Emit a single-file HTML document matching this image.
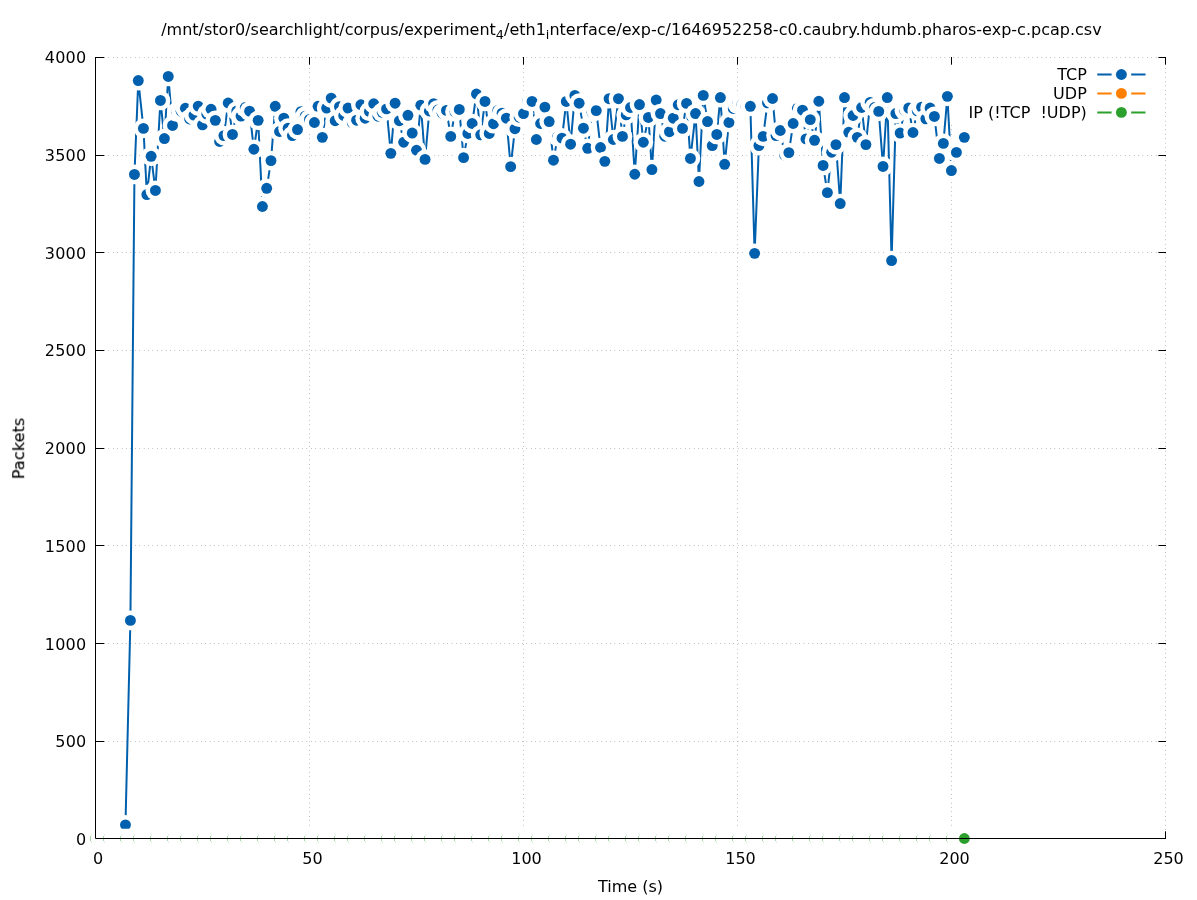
<!DOCTYPE html><html><head><meta charset="utf-8"><title>plot</title><style>html,body{margin:0;padding:0;background:#fff}</style></head><body><svg width="1197" height="900" viewBox="0 0 1197 900" style="display:block">
<rect width="1197" height="900" fill="#fff"/>
<g stroke="#000" stroke-width="0.6" stroke-dasharray="0.4 4" fill="none">
<line x1="95.5" y1="838.5" x2="1165.5" y2="838.5"/>
<line x1="95.5" y1="741.5" x2="1165.5" y2="741.5"/>
<line x1="95.5" y1="643.5" x2="1165.5" y2="643.5"/>
<line x1="95.5" y1="545.5" x2="1165.5" y2="545.5"/>
<line x1="95.5" y1="448.5" x2="1165.5" y2="448.5"/>
<line x1="95.5" y1="350.5" x2="1165.5" y2="350.5"/>
<line x1="95.5" y1="252.5" x2="1165.5" y2="252.5"/>
<line x1="95.5" y1="155.5" x2="1165.5" y2="155.5"/>
<line x1="95.5" y1="57.5" x2="1165.5" y2="57.5"/>
<line x1="309.5" y1="838.5" x2="309.5" y2="57.5"/>
<line x1="523.5" y1="838.5" x2="523.5" y2="57.5"/>
<line x1="737.5" y1="838.5" x2="737.5" y2="57.5"/>
<line x1="951.5" y1="838.5" x2="951.5" y2="57.5"/>
<line x1="1165.5" y1="838.5" x2="1165.5" y2="57.5"/>
</g>
<g stroke="#000" stroke-width="1" fill="none">
<line x1="95" y1="838.5" x2="104.2" y2="838.5"/>
<line x1="1166" y1="838.5" x2="1158.4" y2="838.5"/>
<line x1="95" y1="741.5" x2="104.2" y2="741.5"/>
<line x1="1166" y1="741.5" x2="1158.4" y2="741.5"/>
<line x1="95" y1="643.5" x2="104.2" y2="643.5"/>
<line x1="1166" y1="643.5" x2="1158.4" y2="643.5"/>
<line x1="95" y1="545.5" x2="104.2" y2="545.5"/>
<line x1="1166" y1="545.5" x2="1158.4" y2="545.5"/>
<line x1="95" y1="448.5" x2="104.2" y2="448.5"/>
<line x1="1166" y1="448.5" x2="1158.4" y2="448.5"/>
<line x1="95" y1="350.5" x2="104.2" y2="350.5"/>
<line x1="1166" y1="350.5" x2="1158.4" y2="350.5"/>
<line x1="95" y1="252.5" x2="104.2" y2="252.5"/>
<line x1="1166" y1="252.5" x2="1158.4" y2="252.5"/>
<line x1="95" y1="155.5" x2="104.2" y2="155.5"/>
<line x1="1166" y1="155.5" x2="1158.4" y2="155.5"/>
<line x1="95" y1="57.5" x2="104.2" y2="57.5"/>
<line x1="1166" y1="57.5" x2="1158.4" y2="57.5"/>
<line x1="95.5" y1="839" x2="95.5" y2="831.3"/>
<line x1="95.5" y1="57" x2="95.5" y2="64.7"/>
<line x1="309.5" y1="839" x2="309.5" y2="831.3"/>
<line x1="309.5" y1="57" x2="309.5" y2="64.7"/>
<line x1="523.5" y1="839" x2="523.5" y2="831.3"/>
<line x1="523.5" y1="57" x2="523.5" y2="64.7"/>
<line x1="737.5" y1="839" x2="737.5" y2="831.3"/>
<line x1="737.5" y1="57" x2="737.5" y2="64.7"/>
<line x1="951.5" y1="839" x2="951.5" y2="831.3"/>
<line x1="951.5" y1="57" x2="951.5" y2="64.7"/>
<line x1="1165.5" y1="839" x2="1165.5" y2="831.3"/>
<line x1="1165.5" y1="57" x2="1165.5" y2="64.7"/>
</g>
<rect x="930" y="65.5" width="228" height="58" fill="#fff"/>
<g font-family='"DejaVu Sans","Liberation Sans",sans-serif' font-size="16" fill="#000" opacity="0.999">
<text x="86.4" y="844.8" text-anchor="end" letter-spacing="0.2">0</text>
<text x="86.4" y="746.8" text-anchor="end" letter-spacing="0.2">500</text>
<text x="86.4" y="649.8" text-anchor="end" letter-spacing="0.2">1000</text>
<text x="86.4" y="551.8" text-anchor="end" letter-spacing="0.2">1500</text>
<text x="86.4" y="453.8" text-anchor="end" letter-spacing="0.2">2000</text>
<text x="86.4" y="355.8" text-anchor="end" letter-spacing="0.2">2500</text>
<text x="86.4" y="258.8" text-anchor="end" letter-spacing="0.2">3000</text>
<text x="86.4" y="160.8" text-anchor="end" letter-spacing="0.2">3500</text>
<text x="86.4" y="62.8" text-anchor="end" letter-spacing="0.2">4000</text>
<text x="98.0" y="863.8" text-anchor="middle">0</text>
<text x="312.5" y="863.8" text-anchor="middle">50</text>
<text x="526.5" y="863.8" text-anchor="middle">100</text>
<text x="740.5" y="863.8" text-anchor="middle">150</text>
<text x="954.5" y="863.8" text-anchor="middle">200</text>
<text x="1168.5" y="863.8" text-anchor="middle">250</text>
<text x="630.5" y="892" text-anchor="middle">Time (s)</text>
<text transform="translate(24.2,448.4) rotate(-90)" text-anchor="middle" letter-spacing="0.1" stroke="#000" stroke-width="0.15">Packets</text>
<text x="631.4" y="34.6" text-anchor="middle" textLength="940.5" lengthAdjust="spacing">/mnt/stor0/searchlight/corpus/experiment<tspan font-size="12.8" dy="4.5">4</tspan><tspan dy="-4.5">/eth1</tspan><tspan font-size="12.8" dy="4.5">i</tspan><tspan dy="-4.5">nterface/exp-c/1646952258-c0.caubry.hdumb.pharos-exp-c.pcap.csv</tspan></text>
<text x="1086.8" y="80.3" text-anchor="end" xml:space="preserve">TCP</text>
<text x="1086.8" y="99.2" text-anchor="end" xml:space="preserve">UDP</text>
<text x="1086.8" y="118.1" text-anchor="end" xml:space="preserve">IP (!TCP  !UDP)</text>
</g>
<g>
<path d="M1097.3 74.5H1145.5" stroke="#0060ad" stroke-width="2" fill="none"/>
<circle cx="1121.4" cy="74.5" r="9.85" fill="#fff"/><circle cx="1121.4" cy="74.5" r="5.45" fill="#0060ad"/>
<path d="M125.46 824.83 L130.41 620.41 L134.45 174.45 L138.30 80.54 L143.44 128.38 L146.86 194.57 L151.14 156.30 L155.42 190.47 L160.43 100.46 L164.41 138.53 L168.26 76.44 L172.54 125.45 L176.82 111.97 L181.10 111.19 L185.38 108.26 L189.66 119.00 L193.94 115.10 L198.22 106.12 L202.50 124.86 L206.78 114.12 L211.06 109.24 L215.34 120.37 L219.62 141.46 L223.90 135.60 L228.18 102.99 L232.46 134.43 L236.74 111.00 L241.02 116.08 L245.30 107.48 L249.58 111.19 L253.86 149.27 L258.14 120.37 L262.42 206.48 L266.70 188.32 L270.98 160.59 L275.26 106.31 L279.54 131.50 L283.82 118.22 L288.10 128.18 L292.38 135.60 L297.47 129.55 L300.94 111.58 L305.22 116.08 L309.50 119.39 L314.42 122.52 L318.06 106.31 L322.34 137.36 L326.62 108.07 L331.20 98.11 L335.18 120.76 L339.46 106.70 L343.74 115.49 L348.02 108.07 L352.30 122.71 L356.58 120.18 L360.86 104.75 L365.14 118.22 L369.42 111.39 L373.70 103.77 L377.98 116.27 L382.26 112.37 L386.54 108.85 L390.82 153.37 L395.10 103.19 L399.38 120.76 L403.66 142.24 L407.94 115.29 L412.22 133.06 L416.50 150.24 L420.78 105.14 L425.06 159.42 L429.34 111.00 L433.62 103.58 L437.90 109.83 L442.18 113.15 L446.46 110.41 L450.74 136.38 L455.02 111.78 L459.30 109.44 L463.58 157.66 L467.86 133.45 L472.14 123.49 L476.42 94.01 L480.70 134.82 L484.98 101.43 L489.26 133.45 L493.54 123.69 L497.82 110.41 L502.10 113.15 L506.38 118.22 L510.66 166.64 L514.94 128.77 L519.22 117.25 L523.50 113.54 L527.78 100.85 L532.06 101.43 L536.34 139.50 L540.62 123.49 L544.90 107.09 L549.18 121.54 L553.46 160.20 L557.74 136.58 L562.02 138.14 L566.30 101.43 L570.58 144.19 L574.86 95.38 L579.14 103.19 L583.42 128.18 L587.70 148.29 L591.98 112.17 L596.26 110.61 L600.54 147.51 L604.82 161.37 L609.10 98.70 L613.38 139.50 L618.47 98.70 L622.45 136.38 L626.22 114.90 L630.50 107.48 L634.78 174.26 L639.49 104.56 L643.34 142.24 L648.43 117.44 L651.90 169.57 L656.18 100.06 L660.46 113.54 L664.74 136.19 L669.45 131.70 L673.30 118.22 L678.22 104.75 L682.50 128.38 L686.57 103.38 L690.42 158.44 L695.56 113.54 L698.98 181.48 L703.26 95.38 L707.54 121.54 L712.25 145.56 L716.78 134.43 L720.38 97.53 L724.66 164.30 L728.94 122.52 L733.22 108.46 L737.50 104.16 L741.78 104.75 L746.06 106.51 L750.34 106.31 L754.62 253.34 L758.90 145.56 L763.18 136.38 L767.46 102.80 L772.55 98.50 L776.02 135.60 L780.30 130.52 L784.58 154.93 L788.86 152.59 L793.14 123.49 L797.42 108.26 L802.51 110.22 L805.98 138.92 L810.26 119.59 L814.54 140.29 L818.82 101.24 L823.10 165.47 L827.38 192.61 L831.66 152.20 L835.94 144.58 L840.22 203.55 L844.50 97.53 L848.78 132.28 L853.06 115.49 L857.34 137.36 L861.62 107.48 L865.90 144.58 L870.18 102.41 L874.46 107.48 L878.74 111.39 L883.02 166.45 L887.30 97.53 L891.58 260.56 L895.86 113.54 L900.14 133.06 L904.42 110.22 L908.70 108.07 L912.98 132.48 L917.26 110.80 L921.54 107.09 L925.82 118.81 L930.10 108.07 L934.38 116.47 L939.39 158.44 L943.37 143.41 L947.39 96.35 L951.41 170.55 L956.42 152.39 L964.34 137.36" stroke="#0060ad" stroke-width="2" fill="none" stroke-linejoin="round" stroke-linecap="butt"/>
<circle cx="125.46" cy="824.83" r="9.85" fill="#fff"/><circle cx="125.46" cy="824.83" r="5.45" fill="#0060ad"/>
<circle cx="130.41" cy="620.41" r="9.85" fill="#fff"/><circle cx="130.41" cy="620.41" r="5.45" fill="#0060ad"/>
<circle cx="134.45" cy="174.45" r="9.85" fill="#fff"/><circle cx="134.45" cy="174.45" r="5.45" fill="#0060ad"/>
<circle cx="138.30" cy="80.54" r="9.85" fill="#fff"/><circle cx="138.30" cy="80.54" r="5.45" fill="#0060ad"/>
<circle cx="143.44" cy="128.38" r="9.85" fill="#fff"/><circle cx="143.44" cy="128.38" r="5.45" fill="#0060ad"/>
<circle cx="146.86" cy="194.57" r="9.85" fill="#fff"/><circle cx="146.86" cy="194.57" r="5.45" fill="#0060ad"/>
<circle cx="151.14" cy="156.30" r="9.85" fill="#fff"/><circle cx="151.14" cy="156.30" r="5.45" fill="#0060ad"/>
<circle cx="155.42" cy="190.47" r="9.85" fill="#fff"/><circle cx="155.42" cy="190.47" r="5.45" fill="#0060ad"/>
<circle cx="160.43" cy="100.46" r="9.85" fill="#fff"/><circle cx="160.43" cy="100.46" r="5.45" fill="#0060ad"/>
<circle cx="164.41" cy="138.53" r="9.85" fill="#fff"/><circle cx="164.41" cy="138.53" r="5.45" fill="#0060ad"/>
<circle cx="168.26" cy="76.44" r="9.85" fill="#fff"/><circle cx="168.26" cy="76.44" r="5.45" fill="#0060ad"/>
<circle cx="172.54" cy="125.45" r="9.85" fill="#fff"/><circle cx="172.54" cy="125.45" r="5.45" fill="#0060ad"/>
<circle cx="176.82" cy="111.97" r="9.85" fill="#fff"/><circle cx="176.82" cy="111.97" r="5.45" fill="#0060ad"/>
<circle cx="181.10" cy="111.19" r="9.85" fill="#fff"/><circle cx="181.10" cy="111.19" r="5.45" fill="#0060ad"/>
<circle cx="185.38" cy="108.26" r="9.85" fill="#fff"/><circle cx="185.38" cy="108.26" r="5.45" fill="#0060ad"/>
<circle cx="189.66" cy="119.00" r="9.85" fill="#fff"/><circle cx="189.66" cy="119.00" r="5.45" fill="#0060ad"/>
<circle cx="193.94" cy="115.10" r="9.85" fill="#fff"/><circle cx="193.94" cy="115.10" r="5.45" fill="#0060ad"/>
<circle cx="198.22" cy="106.12" r="9.85" fill="#fff"/><circle cx="198.22" cy="106.12" r="5.45" fill="#0060ad"/>
<circle cx="202.50" cy="124.86" r="9.85" fill="#fff"/><circle cx="202.50" cy="124.86" r="5.45" fill="#0060ad"/>
<circle cx="206.78" cy="114.12" r="9.85" fill="#fff"/><circle cx="206.78" cy="114.12" r="5.45" fill="#0060ad"/>
<circle cx="211.06" cy="109.24" r="9.85" fill="#fff"/><circle cx="211.06" cy="109.24" r="5.45" fill="#0060ad"/>
<circle cx="215.34" cy="120.37" r="9.85" fill="#fff"/><circle cx="215.34" cy="120.37" r="5.45" fill="#0060ad"/>
<circle cx="219.62" cy="141.46" r="9.85" fill="#fff"/><circle cx="219.62" cy="141.46" r="5.45" fill="#0060ad"/>
<circle cx="223.90" cy="135.60" r="9.85" fill="#fff"/><circle cx="223.90" cy="135.60" r="5.45" fill="#0060ad"/>
<circle cx="228.18" cy="102.99" r="9.85" fill="#fff"/><circle cx="228.18" cy="102.99" r="5.45" fill="#0060ad"/>
<circle cx="232.46" cy="134.43" r="9.85" fill="#fff"/><circle cx="232.46" cy="134.43" r="5.45" fill="#0060ad"/>
<circle cx="236.74" cy="111.00" r="9.85" fill="#fff"/><circle cx="236.74" cy="111.00" r="5.45" fill="#0060ad"/>
<circle cx="241.02" cy="116.08" r="9.85" fill="#fff"/><circle cx="241.02" cy="116.08" r="5.45" fill="#0060ad"/>
<circle cx="245.30" cy="107.48" r="9.85" fill="#fff"/><circle cx="245.30" cy="107.48" r="5.45" fill="#0060ad"/>
<circle cx="249.58" cy="111.19" r="9.85" fill="#fff"/><circle cx="249.58" cy="111.19" r="5.45" fill="#0060ad"/>
<circle cx="253.86" cy="149.27" r="9.85" fill="#fff"/><circle cx="253.86" cy="149.27" r="5.45" fill="#0060ad"/>
<circle cx="258.14" cy="120.37" r="9.85" fill="#fff"/><circle cx="258.14" cy="120.37" r="5.45" fill="#0060ad"/>
<circle cx="262.42" cy="206.48" r="9.85" fill="#fff"/><circle cx="262.42" cy="206.48" r="5.45" fill="#0060ad"/>
<circle cx="266.70" cy="188.32" r="9.85" fill="#fff"/><circle cx="266.70" cy="188.32" r="5.45" fill="#0060ad"/>
<circle cx="270.98" cy="160.59" r="9.85" fill="#fff"/><circle cx="270.98" cy="160.59" r="5.45" fill="#0060ad"/>
<circle cx="275.26" cy="106.31" r="9.85" fill="#fff"/><circle cx="275.26" cy="106.31" r="5.45" fill="#0060ad"/>
<circle cx="279.54" cy="131.50" r="9.85" fill="#fff"/><circle cx="279.54" cy="131.50" r="5.45" fill="#0060ad"/>
<circle cx="283.82" cy="118.22" r="9.85" fill="#fff"/><circle cx="283.82" cy="118.22" r="5.45" fill="#0060ad"/>
<circle cx="288.10" cy="128.18" r="9.85" fill="#fff"/><circle cx="288.10" cy="128.18" r="5.45" fill="#0060ad"/>
<circle cx="292.38" cy="135.60" r="9.85" fill="#fff"/><circle cx="292.38" cy="135.60" r="5.45" fill="#0060ad"/>
<circle cx="297.47" cy="129.55" r="9.85" fill="#fff"/><circle cx="297.47" cy="129.55" r="5.45" fill="#0060ad"/>
<circle cx="300.94" cy="111.58" r="9.85" fill="#fff"/><circle cx="300.94" cy="111.58" r="5.45" fill="#0060ad"/>
<circle cx="305.22" cy="116.08" r="9.85" fill="#fff"/><circle cx="305.22" cy="116.08" r="5.45" fill="#0060ad"/>
<circle cx="309.50" cy="119.39" r="9.85" fill="#fff"/><circle cx="309.50" cy="119.39" r="5.45" fill="#0060ad"/>
<circle cx="314.42" cy="122.52" r="9.85" fill="#fff"/><circle cx="314.42" cy="122.52" r="5.45" fill="#0060ad"/>
<circle cx="318.06" cy="106.31" r="9.85" fill="#fff"/><circle cx="318.06" cy="106.31" r="5.45" fill="#0060ad"/>
<circle cx="322.34" cy="137.36" r="9.85" fill="#fff"/><circle cx="322.34" cy="137.36" r="5.45" fill="#0060ad"/>
<circle cx="326.62" cy="108.07" r="9.85" fill="#fff"/><circle cx="326.62" cy="108.07" r="5.45" fill="#0060ad"/>
<circle cx="331.20" cy="98.11" r="9.85" fill="#fff"/><circle cx="331.20" cy="98.11" r="5.45" fill="#0060ad"/>
<circle cx="335.18" cy="120.76" r="9.85" fill="#fff"/><circle cx="335.18" cy="120.76" r="5.45" fill="#0060ad"/>
<circle cx="339.46" cy="106.70" r="9.85" fill="#fff"/><circle cx="339.46" cy="106.70" r="5.45" fill="#0060ad"/>
<circle cx="343.74" cy="115.49" r="9.85" fill="#fff"/><circle cx="343.74" cy="115.49" r="5.45" fill="#0060ad"/>
<circle cx="348.02" cy="108.07" r="9.85" fill="#fff"/><circle cx="348.02" cy="108.07" r="5.45" fill="#0060ad"/>
<circle cx="352.30" cy="122.71" r="9.85" fill="#fff"/><circle cx="352.30" cy="122.71" r="5.45" fill="#0060ad"/>
<circle cx="356.58" cy="120.18" r="9.85" fill="#fff"/><circle cx="356.58" cy="120.18" r="5.45" fill="#0060ad"/>
<circle cx="360.86" cy="104.75" r="9.85" fill="#fff"/><circle cx="360.86" cy="104.75" r="5.45" fill="#0060ad"/>
<circle cx="365.14" cy="118.22" r="9.85" fill="#fff"/><circle cx="365.14" cy="118.22" r="5.45" fill="#0060ad"/>
<circle cx="369.42" cy="111.39" r="9.85" fill="#fff"/><circle cx="369.42" cy="111.39" r="5.45" fill="#0060ad"/>
<circle cx="373.70" cy="103.77" r="9.85" fill="#fff"/><circle cx="373.70" cy="103.77" r="5.45" fill="#0060ad"/>
<circle cx="377.98" cy="116.27" r="9.85" fill="#fff"/><circle cx="377.98" cy="116.27" r="5.45" fill="#0060ad"/>
<circle cx="382.26" cy="112.37" r="9.85" fill="#fff"/><circle cx="382.26" cy="112.37" r="5.45" fill="#0060ad"/>
<circle cx="386.54" cy="108.85" r="9.85" fill="#fff"/><circle cx="386.54" cy="108.85" r="5.45" fill="#0060ad"/>
<circle cx="390.82" cy="153.37" r="9.85" fill="#fff"/><circle cx="390.82" cy="153.37" r="5.45" fill="#0060ad"/>
<circle cx="395.10" cy="103.19" r="9.85" fill="#fff"/><circle cx="395.10" cy="103.19" r="5.45" fill="#0060ad"/>
<circle cx="399.38" cy="120.76" r="9.85" fill="#fff"/><circle cx="399.38" cy="120.76" r="5.45" fill="#0060ad"/>
<circle cx="403.66" cy="142.24" r="9.85" fill="#fff"/><circle cx="403.66" cy="142.24" r="5.45" fill="#0060ad"/>
<circle cx="407.94" cy="115.29" r="9.85" fill="#fff"/><circle cx="407.94" cy="115.29" r="5.45" fill="#0060ad"/>
<circle cx="412.22" cy="133.06" r="9.85" fill="#fff"/><circle cx="412.22" cy="133.06" r="5.45" fill="#0060ad"/>
<circle cx="416.50" cy="150.24" r="9.85" fill="#fff"/><circle cx="416.50" cy="150.24" r="5.45" fill="#0060ad"/>
<circle cx="420.78" cy="105.14" r="9.85" fill="#fff"/><circle cx="420.78" cy="105.14" r="5.45" fill="#0060ad"/>
<circle cx="425.06" cy="159.42" r="9.85" fill="#fff"/><circle cx="425.06" cy="159.42" r="5.45" fill="#0060ad"/>
<circle cx="429.34" cy="111.00" r="9.85" fill="#fff"/><circle cx="429.34" cy="111.00" r="5.45" fill="#0060ad"/>
<circle cx="433.62" cy="103.58" r="9.85" fill="#fff"/><circle cx="433.62" cy="103.58" r="5.45" fill="#0060ad"/>
<circle cx="437.90" cy="109.83" r="9.85" fill="#fff"/><circle cx="437.90" cy="109.83" r="5.45" fill="#0060ad"/>
<circle cx="442.18" cy="113.15" r="9.85" fill="#fff"/><circle cx="442.18" cy="113.15" r="5.45" fill="#0060ad"/>
<circle cx="446.46" cy="110.41" r="9.85" fill="#fff"/><circle cx="446.46" cy="110.41" r="5.45" fill="#0060ad"/>
<circle cx="450.74" cy="136.38" r="9.85" fill="#fff"/><circle cx="450.74" cy="136.38" r="5.45" fill="#0060ad"/>
<circle cx="455.02" cy="111.78" r="9.85" fill="#fff"/><circle cx="455.02" cy="111.78" r="5.45" fill="#0060ad"/>
<circle cx="459.30" cy="109.44" r="9.85" fill="#fff"/><circle cx="459.30" cy="109.44" r="5.45" fill="#0060ad"/>
<circle cx="463.58" cy="157.66" r="9.85" fill="#fff"/><circle cx="463.58" cy="157.66" r="5.45" fill="#0060ad"/>
<circle cx="467.86" cy="133.45" r="9.85" fill="#fff"/><circle cx="467.86" cy="133.45" r="5.45" fill="#0060ad"/>
<circle cx="472.14" cy="123.49" r="9.85" fill="#fff"/><circle cx="472.14" cy="123.49" r="5.45" fill="#0060ad"/>
<circle cx="476.42" cy="94.01" r="9.85" fill="#fff"/><circle cx="476.42" cy="94.01" r="5.45" fill="#0060ad"/>
<circle cx="480.70" cy="134.82" r="9.85" fill="#fff"/><circle cx="480.70" cy="134.82" r="5.45" fill="#0060ad"/>
<circle cx="484.98" cy="101.43" r="9.85" fill="#fff"/><circle cx="484.98" cy="101.43" r="5.45" fill="#0060ad"/>
<circle cx="489.26" cy="133.45" r="9.85" fill="#fff"/><circle cx="489.26" cy="133.45" r="5.45" fill="#0060ad"/>
<circle cx="493.54" cy="123.69" r="9.85" fill="#fff"/><circle cx="493.54" cy="123.69" r="5.45" fill="#0060ad"/>
<circle cx="497.82" cy="110.41" r="9.85" fill="#fff"/><circle cx="497.82" cy="110.41" r="5.45" fill="#0060ad"/>
<circle cx="502.10" cy="113.15" r="9.85" fill="#fff"/><circle cx="502.10" cy="113.15" r="5.45" fill="#0060ad"/>
<circle cx="506.38" cy="118.22" r="9.85" fill="#fff"/><circle cx="506.38" cy="118.22" r="5.45" fill="#0060ad"/>
<circle cx="510.66" cy="166.64" r="9.85" fill="#fff"/><circle cx="510.66" cy="166.64" r="5.45" fill="#0060ad"/>
<circle cx="514.94" cy="128.77" r="9.85" fill="#fff"/><circle cx="514.94" cy="128.77" r="5.45" fill="#0060ad"/>
<circle cx="519.22" cy="117.25" r="9.85" fill="#fff"/><circle cx="519.22" cy="117.25" r="5.45" fill="#0060ad"/>
<circle cx="523.50" cy="113.54" r="9.85" fill="#fff"/><circle cx="523.50" cy="113.54" r="5.45" fill="#0060ad"/>
<circle cx="527.78" cy="100.85" r="9.85" fill="#fff"/><circle cx="527.78" cy="100.85" r="5.45" fill="#0060ad"/>
<circle cx="532.06" cy="101.43" r="9.85" fill="#fff"/><circle cx="532.06" cy="101.43" r="5.45" fill="#0060ad"/>
<circle cx="536.34" cy="139.50" r="9.85" fill="#fff"/><circle cx="536.34" cy="139.50" r="5.45" fill="#0060ad"/>
<circle cx="540.62" cy="123.49" r="9.85" fill="#fff"/><circle cx="540.62" cy="123.49" r="5.45" fill="#0060ad"/>
<circle cx="544.90" cy="107.09" r="9.85" fill="#fff"/><circle cx="544.90" cy="107.09" r="5.45" fill="#0060ad"/>
<circle cx="549.18" cy="121.54" r="9.85" fill="#fff"/><circle cx="549.18" cy="121.54" r="5.45" fill="#0060ad"/>
<circle cx="553.46" cy="160.20" r="9.85" fill="#fff"/><circle cx="553.46" cy="160.20" r="5.45" fill="#0060ad"/>
<circle cx="557.74" cy="136.58" r="9.85" fill="#fff"/><circle cx="557.74" cy="136.58" r="5.45" fill="#0060ad"/>
<circle cx="562.02" cy="138.14" r="9.85" fill="#fff"/><circle cx="562.02" cy="138.14" r="5.45" fill="#0060ad"/>
<circle cx="566.30" cy="101.43" r="9.85" fill="#fff"/><circle cx="566.30" cy="101.43" r="5.45" fill="#0060ad"/>
<circle cx="570.58" cy="144.19" r="9.85" fill="#fff"/><circle cx="570.58" cy="144.19" r="5.45" fill="#0060ad"/>
<circle cx="574.86" cy="95.38" r="9.85" fill="#fff"/><circle cx="574.86" cy="95.38" r="5.45" fill="#0060ad"/>
<circle cx="579.14" cy="103.19" r="9.85" fill="#fff"/><circle cx="579.14" cy="103.19" r="5.45" fill="#0060ad"/>
<circle cx="583.42" cy="128.18" r="9.85" fill="#fff"/><circle cx="583.42" cy="128.18" r="5.45" fill="#0060ad"/>
<circle cx="587.70" cy="148.29" r="9.85" fill="#fff"/><circle cx="587.70" cy="148.29" r="5.45" fill="#0060ad"/>
<circle cx="591.98" cy="112.17" r="9.85" fill="#fff"/><circle cx="591.98" cy="112.17" r="5.45" fill="#0060ad"/>
<circle cx="596.26" cy="110.61" r="9.85" fill="#fff"/><circle cx="596.26" cy="110.61" r="5.45" fill="#0060ad"/>
<circle cx="600.54" cy="147.51" r="9.85" fill="#fff"/><circle cx="600.54" cy="147.51" r="5.45" fill="#0060ad"/>
<circle cx="604.82" cy="161.37" r="9.85" fill="#fff"/><circle cx="604.82" cy="161.37" r="5.45" fill="#0060ad"/>
<circle cx="609.10" cy="98.70" r="9.85" fill="#fff"/><circle cx="609.10" cy="98.70" r="5.45" fill="#0060ad"/>
<circle cx="613.38" cy="139.50" r="9.85" fill="#fff"/><circle cx="613.38" cy="139.50" r="5.45" fill="#0060ad"/>
<circle cx="618.47" cy="98.70" r="9.85" fill="#fff"/><circle cx="618.47" cy="98.70" r="5.45" fill="#0060ad"/>
<circle cx="622.45" cy="136.38" r="9.85" fill="#fff"/><circle cx="622.45" cy="136.38" r="5.45" fill="#0060ad"/>
<circle cx="626.22" cy="114.90" r="9.85" fill="#fff"/><circle cx="626.22" cy="114.90" r="5.45" fill="#0060ad"/>
<circle cx="630.50" cy="107.48" r="9.85" fill="#fff"/><circle cx="630.50" cy="107.48" r="5.45" fill="#0060ad"/>
<circle cx="634.78" cy="174.26" r="9.85" fill="#fff"/><circle cx="634.78" cy="174.26" r="5.45" fill="#0060ad"/>
<circle cx="639.49" cy="104.56" r="9.85" fill="#fff"/><circle cx="639.49" cy="104.56" r="5.45" fill="#0060ad"/>
<circle cx="643.34" cy="142.24" r="9.85" fill="#fff"/><circle cx="643.34" cy="142.24" r="5.45" fill="#0060ad"/>
<circle cx="648.43" cy="117.44" r="9.85" fill="#fff"/><circle cx="648.43" cy="117.44" r="5.45" fill="#0060ad"/>
<circle cx="651.90" cy="169.57" r="9.85" fill="#fff"/><circle cx="651.90" cy="169.57" r="5.45" fill="#0060ad"/>
<circle cx="656.18" cy="100.06" r="9.85" fill="#fff"/><circle cx="656.18" cy="100.06" r="5.45" fill="#0060ad"/>
<circle cx="660.46" cy="113.54" r="9.85" fill="#fff"/><circle cx="660.46" cy="113.54" r="5.45" fill="#0060ad"/>
<circle cx="664.74" cy="136.19" r="9.85" fill="#fff"/><circle cx="664.74" cy="136.19" r="5.45" fill="#0060ad"/>
<circle cx="669.45" cy="131.70" r="9.85" fill="#fff"/><circle cx="669.45" cy="131.70" r="5.45" fill="#0060ad"/>
<circle cx="673.30" cy="118.22" r="9.85" fill="#fff"/><circle cx="673.30" cy="118.22" r="5.45" fill="#0060ad"/>
<circle cx="678.22" cy="104.75" r="9.85" fill="#fff"/><circle cx="678.22" cy="104.75" r="5.45" fill="#0060ad"/>
<circle cx="682.50" cy="128.38" r="9.85" fill="#fff"/><circle cx="682.50" cy="128.38" r="5.45" fill="#0060ad"/>
<circle cx="686.57" cy="103.38" r="9.85" fill="#fff"/><circle cx="686.57" cy="103.38" r="5.45" fill="#0060ad"/>
<circle cx="690.42" cy="158.44" r="9.85" fill="#fff"/><circle cx="690.42" cy="158.44" r="5.45" fill="#0060ad"/>
<circle cx="695.56" cy="113.54" r="9.85" fill="#fff"/><circle cx="695.56" cy="113.54" r="5.45" fill="#0060ad"/>
<circle cx="698.98" cy="181.48" r="9.85" fill="#fff"/><circle cx="698.98" cy="181.48" r="5.45" fill="#0060ad"/>
<circle cx="703.26" cy="95.38" r="9.85" fill="#fff"/><circle cx="703.26" cy="95.38" r="5.45" fill="#0060ad"/>
<circle cx="707.54" cy="121.54" r="9.85" fill="#fff"/><circle cx="707.54" cy="121.54" r="5.45" fill="#0060ad"/>
<circle cx="712.25" cy="145.56" r="9.85" fill="#fff"/><circle cx="712.25" cy="145.56" r="5.45" fill="#0060ad"/>
<circle cx="716.78" cy="134.43" r="9.85" fill="#fff"/><circle cx="716.78" cy="134.43" r="5.45" fill="#0060ad"/>
<circle cx="720.38" cy="97.53" r="9.85" fill="#fff"/><circle cx="720.38" cy="97.53" r="5.45" fill="#0060ad"/>
<circle cx="724.66" cy="164.30" r="9.85" fill="#fff"/><circle cx="724.66" cy="164.30" r="5.45" fill="#0060ad"/>
<circle cx="728.94" cy="122.52" r="9.85" fill="#fff"/><circle cx="728.94" cy="122.52" r="5.45" fill="#0060ad"/>
<circle cx="733.22" cy="108.46" r="9.85" fill="#fff"/><circle cx="733.22" cy="108.46" r="5.45" fill="#0060ad"/>
<circle cx="737.50" cy="104.16" r="9.85" fill="#fff"/><circle cx="737.50" cy="104.16" r="5.45" fill="#0060ad"/>
<circle cx="741.78" cy="104.75" r="9.85" fill="#fff"/><circle cx="741.78" cy="104.75" r="5.45" fill="#0060ad"/>
<circle cx="746.06" cy="106.51" r="9.85" fill="#fff"/><circle cx="746.06" cy="106.51" r="5.45" fill="#0060ad"/>
<circle cx="750.34" cy="106.31" r="9.85" fill="#fff"/><circle cx="750.34" cy="106.31" r="5.45" fill="#0060ad"/>
<circle cx="754.62" cy="253.34" r="9.85" fill="#fff"/><circle cx="754.62" cy="253.34" r="5.45" fill="#0060ad"/>
<circle cx="758.90" cy="145.56" r="9.85" fill="#fff"/><circle cx="758.90" cy="145.56" r="5.45" fill="#0060ad"/>
<circle cx="763.18" cy="136.38" r="9.85" fill="#fff"/><circle cx="763.18" cy="136.38" r="5.45" fill="#0060ad"/>
<circle cx="767.46" cy="102.80" r="9.85" fill="#fff"/><circle cx="767.46" cy="102.80" r="5.45" fill="#0060ad"/>
<circle cx="772.55" cy="98.50" r="9.85" fill="#fff"/><circle cx="772.55" cy="98.50" r="5.45" fill="#0060ad"/>
<circle cx="776.02" cy="135.60" r="9.85" fill="#fff"/><circle cx="776.02" cy="135.60" r="5.45" fill="#0060ad"/>
<circle cx="780.30" cy="130.52" r="9.85" fill="#fff"/><circle cx="780.30" cy="130.52" r="5.45" fill="#0060ad"/>
<circle cx="784.58" cy="154.93" r="9.85" fill="#fff"/><circle cx="784.58" cy="154.93" r="5.45" fill="#0060ad"/>
<circle cx="788.86" cy="152.59" r="9.85" fill="#fff"/><circle cx="788.86" cy="152.59" r="5.45" fill="#0060ad"/>
<circle cx="793.14" cy="123.49" r="9.85" fill="#fff"/><circle cx="793.14" cy="123.49" r="5.45" fill="#0060ad"/>
<circle cx="797.42" cy="108.26" r="9.85" fill="#fff"/><circle cx="797.42" cy="108.26" r="5.45" fill="#0060ad"/>
<circle cx="802.51" cy="110.22" r="9.85" fill="#fff"/><circle cx="802.51" cy="110.22" r="5.45" fill="#0060ad"/>
<circle cx="805.98" cy="138.92" r="9.85" fill="#fff"/><circle cx="805.98" cy="138.92" r="5.45" fill="#0060ad"/>
<circle cx="810.26" cy="119.59" r="9.85" fill="#fff"/><circle cx="810.26" cy="119.59" r="5.45" fill="#0060ad"/>
<circle cx="814.54" cy="140.29" r="9.85" fill="#fff"/><circle cx="814.54" cy="140.29" r="5.45" fill="#0060ad"/>
<circle cx="818.82" cy="101.24" r="9.85" fill="#fff"/><circle cx="818.82" cy="101.24" r="5.45" fill="#0060ad"/>
<circle cx="823.10" cy="165.47" r="9.85" fill="#fff"/><circle cx="823.10" cy="165.47" r="5.45" fill="#0060ad"/>
<circle cx="827.38" cy="192.61" r="9.85" fill="#fff"/><circle cx="827.38" cy="192.61" r="5.45" fill="#0060ad"/>
<circle cx="831.66" cy="152.20" r="9.85" fill="#fff"/><circle cx="831.66" cy="152.20" r="5.45" fill="#0060ad"/>
<circle cx="835.94" cy="144.58" r="9.85" fill="#fff"/><circle cx="835.94" cy="144.58" r="5.45" fill="#0060ad"/>
<circle cx="840.22" cy="203.55" r="9.85" fill="#fff"/><circle cx="840.22" cy="203.55" r="5.45" fill="#0060ad"/>
<circle cx="844.50" cy="97.53" r="9.85" fill="#fff"/><circle cx="844.50" cy="97.53" r="5.45" fill="#0060ad"/>
<circle cx="848.78" cy="132.28" r="9.85" fill="#fff"/><circle cx="848.78" cy="132.28" r="5.45" fill="#0060ad"/>
<circle cx="853.06" cy="115.49" r="9.85" fill="#fff"/><circle cx="853.06" cy="115.49" r="5.45" fill="#0060ad"/>
<circle cx="857.34" cy="137.36" r="9.85" fill="#fff"/><circle cx="857.34" cy="137.36" r="5.45" fill="#0060ad"/>
<circle cx="861.62" cy="107.48" r="9.85" fill="#fff"/><circle cx="861.62" cy="107.48" r="5.45" fill="#0060ad"/>
<circle cx="865.90" cy="144.58" r="9.85" fill="#fff"/><circle cx="865.90" cy="144.58" r="5.45" fill="#0060ad"/>
<circle cx="870.18" cy="102.41" r="9.85" fill="#fff"/><circle cx="870.18" cy="102.41" r="5.45" fill="#0060ad"/>
<circle cx="874.46" cy="107.48" r="9.85" fill="#fff"/><circle cx="874.46" cy="107.48" r="5.45" fill="#0060ad"/>
<circle cx="878.74" cy="111.39" r="9.85" fill="#fff"/><circle cx="878.74" cy="111.39" r="5.45" fill="#0060ad"/>
<circle cx="883.02" cy="166.45" r="9.85" fill="#fff"/><circle cx="883.02" cy="166.45" r="5.45" fill="#0060ad"/>
<circle cx="887.30" cy="97.53" r="9.85" fill="#fff"/><circle cx="887.30" cy="97.53" r="5.45" fill="#0060ad"/>
<circle cx="891.58" cy="260.56" r="9.85" fill="#fff"/><circle cx="891.58" cy="260.56" r="5.45" fill="#0060ad"/>
<circle cx="895.86" cy="113.54" r="9.85" fill="#fff"/><circle cx="895.86" cy="113.54" r="5.45" fill="#0060ad"/>
<circle cx="900.14" cy="133.06" r="9.85" fill="#fff"/><circle cx="900.14" cy="133.06" r="5.45" fill="#0060ad"/>
<circle cx="904.42" cy="110.22" r="9.85" fill="#fff"/><circle cx="904.42" cy="110.22" r="5.45" fill="#0060ad"/>
<circle cx="908.70" cy="108.07" r="9.85" fill="#fff"/><circle cx="908.70" cy="108.07" r="5.45" fill="#0060ad"/>
<circle cx="912.98" cy="132.48" r="9.85" fill="#fff"/><circle cx="912.98" cy="132.48" r="5.45" fill="#0060ad"/>
<circle cx="917.26" cy="110.80" r="9.85" fill="#fff"/><circle cx="917.26" cy="110.80" r="5.45" fill="#0060ad"/>
<circle cx="921.54" cy="107.09" r="9.85" fill="#fff"/><circle cx="921.54" cy="107.09" r="5.45" fill="#0060ad"/>
<circle cx="925.82" cy="118.81" r="9.85" fill="#fff"/><circle cx="925.82" cy="118.81" r="5.45" fill="#0060ad"/>
<circle cx="930.10" cy="108.07" r="9.85" fill="#fff"/><circle cx="930.10" cy="108.07" r="5.45" fill="#0060ad"/>
<circle cx="934.38" cy="116.47" r="9.85" fill="#fff"/><circle cx="934.38" cy="116.47" r="5.45" fill="#0060ad"/>
<circle cx="939.39" cy="158.44" r="9.85" fill="#fff"/><circle cx="939.39" cy="158.44" r="5.45" fill="#0060ad"/>
<circle cx="943.37" cy="143.41" r="9.85" fill="#fff"/><circle cx="943.37" cy="143.41" r="5.45" fill="#0060ad"/>
<circle cx="947.39" cy="96.35" r="9.85" fill="#fff"/><circle cx="947.39" cy="96.35" r="5.45" fill="#0060ad"/>
<circle cx="951.41" cy="170.55" r="9.85" fill="#fff"/><circle cx="951.41" cy="170.55" r="5.45" fill="#0060ad"/>
<circle cx="956.42" cy="152.39" r="9.85" fill="#fff"/><circle cx="956.42" cy="152.39" r="5.45" fill="#0060ad"/>
<circle cx="964.34" cy="137.36" r="9.85" fill="#fff"/><circle cx="964.34" cy="137.36" r="5.45" fill="#0060ad"/>
<path d="M1097.3 93.4H1145.5" stroke="#ff7f00" stroke-width="2" fill="none"/>
<circle cx="1121.4" cy="93.4" r="9.85" fill="#fff"/><circle cx="1121.4" cy="93.4" r="5.45" fill="#ff7f00"/>
<path d="M1097.3 112.4H1145.5" stroke="#2ca02c" stroke-width="2" fill="none"/>
<circle cx="1121.4" cy="112.4" r="9.85" fill="#fff"/><circle cx="1121.4" cy="112.4" r="5.45" fill="#2ca02c"/>
<rect x="85.65" y="828.65" width="888.54" height="19.70" rx="9.85" fill="#fff"/>
<g stroke="#2ca02c" stroke-width="1" fill="none"><path d="M90.5 836V841" stroke-opacity="0.42"/><path d="M91.5 834V836M91.5 841V843" stroke-opacity="0.12"/><path d="M103.5 836V841" stroke-opacity="0.42"/><path d="M104.5 834V836M104.5 841V843" stroke-opacity="0.12"/><path d="M120.5 836V841" stroke-opacity="0.42"/><path d="M121.5 834V836M121.5 841V843" stroke-opacity="0.12"/><path d="M133.5 836V841" stroke-opacity="0.42"/><path d="M134.5 834V836M134.5 841V843" stroke-opacity="0.12"/><path d="M150.5 836V841" stroke-opacity="0.42"/><path d="M151.5 834V836M151.5 841V843" stroke-opacity="0.12"/><path d="M167.5 836V841" stroke-opacity="0.42"/><path d="M168.5 834V836M168.5 841V843" stroke-opacity="0.12"/><path d="M180.5 836V841" stroke-opacity="0.42"/><path d="M181.5 834V836M181.5 841V843" stroke-opacity="0.12"/><path d="M197.5 836V841" stroke-opacity="0.42"/><path d="M198.5 834V836M198.5 841V843" stroke-opacity="0.12"/><path d="M210.5 836V841" stroke-opacity="0.42"/><path d="M211.5 834V836M211.5 841V843" stroke-opacity="0.12"/><path d="M227.5 836V841" stroke-opacity="0.42"/><path d="M228.5 834V836M228.5 841V843" stroke-opacity="0.12"/><path d="M240.5 836V841" stroke-opacity="0.42"/><path d="M241.5 834V836M241.5 841V843" stroke-opacity="0.12"/><path d="M257.5 836V841" stroke-opacity="0.42"/><path d="M258.5 834V836M258.5 841V843" stroke-opacity="0.12"/><path d="M274.5 836V841" stroke-opacity="0.42"/><path d="M275.5 834V836M275.5 841V843" stroke-opacity="0.12"/><path d="M287.5 836V841" stroke-opacity="0.42"/><path d="M288.5 834V836M288.5 841V843" stroke-opacity="0.12"/><path d="M304.5 836V841" stroke-opacity="0.42"/><path d="M305.5 834V836M305.5 841V843" stroke-opacity="0.12"/><path d="M317.5 836V841" stroke-opacity="0.42"/><path d="M318.5 834V836M318.5 841V843" stroke-opacity="0.12"/><path d="M334.5 836V841" stroke-opacity="0.42"/><path d="M335.5 834V836M335.5 841V843" stroke-opacity="0.12"/><path d="M347.5 836V841" stroke-opacity="0.42"/><path d="M348.5 834V836M348.5 841V843" stroke-opacity="0.12"/><path d="M364.5 836V841" stroke-opacity="0.42"/><path d="M365.5 834V836M365.5 841V843" stroke-opacity="0.12"/><path d="M381.5 836V841" stroke-opacity="0.42"/><path d="M382.5 834V836M382.5 841V843" stroke-opacity="0.12"/><path d="M394.5 836V841" stroke-opacity="0.42"/><path d="M395.5 834V836M395.5 841V843" stroke-opacity="0.12"/><path d="M411.5 836V841" stroke-opacity="0.42"/><path d="M412.5 834V836M412.5 841V843" stroke-opacity="0.12"/><path d="M424.5 836V841" stroke-opacity="0.42"/><path d="M425.5 834V836M425.5 841V843" stroke-opacity="0.12"/><path d="M441.5 836V841" stroke-opacity="0.42"/><path d="M442.5 834V836M442.5 841V843" stroke-opacity="0.12"/><path d="M454.5 836V841" stroke-opacity="0.42"/><path d="M455.5 834V836M455.5 841V843" stroke-opacity="0.12"/><path d="M471.5 836V841" stroke-opacity="0.42"/><path d="M472.5 834V836M472.5 841V843" stroke-opacity="0.12"/><path d="M488.5 836V841" stroke-opacity="0.42"/><path d="M489.5 834V836M489.5 841V843" stroke-opacity="0.12"/><path d="M501.5 836V841" stroke-opacity="0.42"/><path d="M502.5 834V836M502.5 841V843" stroke-opacity="0.12"/><path d="M518.5 836V841" stroke-opacity="0.42"/><path d="M519.5 834V836M519.5 841V843" stroke-opacity="0.12"/><path d="M531.5 836V841" stroke-opacity="0.42"/><path d="M532.5 834V836M532.5 841V843" stroke-opacity="0.12"/><path d="M548.5 836V841" stroke-opacity="0.42"/><path d="M549.5 834V836M549.5 841V843" stroke-opacity="0.12"/><path d="M565.5 836V841" stroke-opacity="0.42"/><path d="M566.5 834V836M566.5 841V843" stroke-opacity="0.12"/><path d="M578.5 836V841" stroke-opacity="0.42"/><path d="M579.5 834V836M579.5 841V843" stroke-opacity="0.12"/><path d="M595.5 836V841" stroke-opacity="0.42"/><path d="M596.5 834V836M596.5 841V843" stroke-opacity="0.12"/><path d="M608.5 836V841" stroke-opacity="0.42"/><path d="M609.5 834V836M609.5 841V843" stroke-opacity="0.12"/><path d="M625.5 836V841" stroke-opacity="0.42"/><path d="M626.5 834V836M626.5 841V843" stroke-opacity="0.12"/><path d="M638.5 836V841" stroke-opacity="0.42"/><path d="M639.5 834V836M639.5 841V843" stroke-opacity="0.12"/><path d="M655.5 836V841" stroke-opacity="0.42"/><path d="M656.5 834V836M656.5 841V843" stroke-opacity="0.12"/><path d="M668.5 836V841" stroke-opacity="0.42"/><path d="M669.5 834V836M669.5 841V843" stroke-opacity="0.12"/><path d="M685.5 836V841" stroke-opacity="0.42"/><path d="M686.5 834V836M686.5 841V843" stroke-opacity="0.12"/><path d="M702.5 836V841" stroke-opacity="0.42"/><path d="M703.5 834V836M703.5 841V843" stroke-opacity="0.12"/><path d="M715.5 836V841" stroke-opacity="0.42"/><path d="M716.5 834V836M716.5 841V843" stroke-opacity="0.12"/><path d="M732.5 836V841" stroke-opacity="0.42"/><path d="M733.5 834V836M733.5 841V843" stroke-opacity="0.12"/><path d="M745.5 836V841" stroke-opacity="0.42"/><path d="M746.5 834V836M746.5 841V843" stroke-opacity="0.12"/><path d="M762.5 836V841" stroke-opacity="0.42"/><path d="M763.5 834V836M763.5 841V843" stroke-opacity="0.12"/><path d="M775.5 836V841" stroke-opacity="0.42"/><path d="M776.5 834V836M776.5 841V843" stroke-opacity="0.12"/><path d="M792.5 836V841" stroke-opacity="0.42"/><path d="M793.5 834V836M793.5 841V843" stroke-opacity="0.12"/><path d="M809.5 836V841" stroke-opacity="0.42"/><path d="M810.5 834V836M810.5 841V843" stroke-opacity="0.12"/><path d="M822.5 836V841" stroke-opacity="0.42"/><path d="M823.5 834V836M823.5 841V843" stroke-opacity="0.12"/><path d="M839.5 836V841" stroke-opacity="0.42"/><path d="M840.5 834V836M840.5 841V843" stroke-opacity="0.12"/><path d="M852.5 836V841" stroke-opacity="0.42"/><path d="M853.5 834V836M853.5 841V843" stroke-opacity="0.12"/><path d="M869.5 836V841" stroke-opacity="0.42"/><path d="M870.5 834V836M870.5 841V843" stroke-opacity="0.12"/><path d="M882.5 836V841" stroke-opacity="0.42"/><path d="M883.5 834V836M883.5 841V843" stroke-opacity="0.12"/><path d="M899.5 836V841" stroke-opacity="0.42"/><path d="M900.5 834V836M900.5 841V843" stroke-opacity="0.12"/><path d="M916.5 836V841" stroke-opacity="0.42"/><path d="M917.5 834V836M917.5 841V843" stroke-opacity="0.12"/><path d="M929.5 836V841" stroke-opacity="0.42"/><path d="M930.5 834V836M930.5 841V843" stroke-opacity="0.12"/><path d="M946.5 836V841" stroke-opacity="0.42"/><path d="M947.5 834V836M947.5 841V843" stroke-opacity="0.12"/></g>
<circle cx="964.34" cy="838.5" r="5.45" fill="#2ca02c"/>
</g>
<path d="M95.5 57.5V838.5H1165.5" stroke="#000" stroke-width="1" fill="none"/>
</svg></body></html>
